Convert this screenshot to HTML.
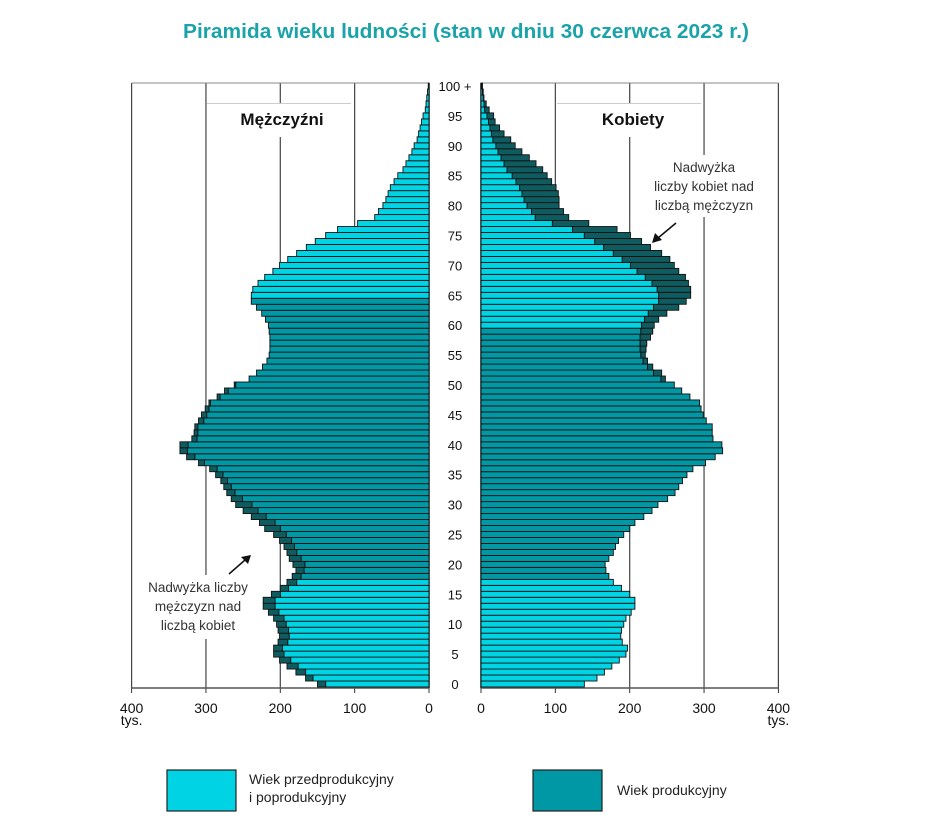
<!DOCTYPE html>
<html><head><meta charset="utf-8">
<style>
html,body{margin:0;padding:0;background:#fff;}
body{width:948px;height:822px;overflow:hidden;font-family:"Liberation Sans",sans-serif;}
</style></head>
<body>
<svg id="s" width="948" height="822" xmlns="http://www.w3.org/2000/svg" font-family="Liberation Sans, DejaVu Sans, sans-serif">
<text x="183" y="38" textLength="566" lengthAdjust="spacingAndGlyphs" font-size="20" font-weight="bold" fill="#1aa3a8">Piramida wieku ludności (stan w dniu 30 czerwca 2023 r.)</text>
<g id="grid"></g>
<g id="bars"></g>
<g id="over"></g>
</svg>
<script>
var M={100:1,99:2,98:3,97:4,96:5,95:8,94:10,93:12,92:14,91:16,90:20,89:23,88:27,87:31,86:35,85:42,84:47,83:52,82:55,81:58,80:62,79:68,78:73,77:96,76:123,75:139,74:153,73:165,72:178,71:190,70:201,69:210,68:221,67:230,66:237,65:239,64:239,63:232,62:225,61:220,60:216,59:215,58:214,57:214,56:214,55:215,54:218,53:224,52:232,51:242,50:262,49:275,48:285,47:296,46:301,45:306,44:310,43:315,42:316,41:319,40:335,39:335,38:326,37:310,36:295,35:287,34:280,33:276,32:272,31:266,30:260,29:250,28:239,27:228,26:221,25:209,24:201,23:195,22:191,21:188,20:183,19:179,18:184,17:191,16:200,15:212,14:223,13:223,12:216,11:209,10:205,9:203,8:201,7:203,6:209,5:209,4:201,3:191,2:179,1:166,0:150};
var F={100:2,99:3,98:4,97:7,96:11,95:17,94:19,93:25,92:31,91:40,90:46,89:55,88:65,87:74,86:83,85:89,84:95,83:101,82:104,81:105,80:105,79:111,78:118,77:145,76:183,75:201,74:216,73:228,72:243,71:254,70:260,69:266,68:275,67:279,66:282,65:282,64:276,63:266,62:250,61:239,60:233,59:231,58:228,57:223,56:222,55:221,54:224,53:231,52:243,51:248,50:260,49:270,48:281,47:294,46:296,45:299,44:303,43:311,42:311,41:312,40:324,39:325,38:315,37:302,36:285,35:277,34:271,33:266,32:261,31:251,30:238,29:230,28:219,27:207,26:200,25:192,24:185,23:181,22:178,21:172,20:167,19:168,18:172,17:178,16:189,15:200,14:207,13:207,12:202,11:195,10:192,9:189,8:188,7:190,6:197,5:195,4:186,3:176,2:166,1:156,0:139};
var NS="http://www.w3.org/2000/svg";
function el(p,t,a,txt){var e=document.createElementNS(NS,t);for(var k in a)e.setAttribute(k,a[k]);if(txt!=null)e.textContent=txt;p.appendChild(e);return e;}
var g=document.getElementById('grid'),b=document.getElementById('bars'),o=document.getElementById('over');
var L0=429,R0=481,S=0.7435,TOP=83,BOT=688;
for(var i=0;i<=4;i++){
 var xl=L0-i*100*S, xr=R0+i*100*S;
 el(g,'line',{x1:xl,y1:TOP,x2:xl,y2:BOT,stroke:i==0?'#111':'#444','stroke-width':i==0?1.5:1.2});
 el(g,'line',{x1:xr,y1:TOP,x2:xr,y2:BOT,stroke:i==0?'#111':'#444','stroke-width':i==0?1.5:1.2});
 el(g,'line',{x1:xl,y1:BOT,x2:xl,y2:BOT+5,stroke:'#333'});
 el(g,'line',{x1:xr,y1:BOT,x2:xr,y2:BOT+5,stroke:'#333'});
 var lbl=String(i*100);
 el(g,'text',{x:xl,y:BOT+25,'text-anchor':'middle','font-size':14,fill:'#111'},lbl);
 el(g,'text',{x:xr,y:BOT+25,'text-anchor':'middle','font-size':14,fill:'#111'},lbl);
}
el(g,'line',{x1:L0-400*S,y1:TOP,x2:L0,y2:TOP,stroke:'#888'});
el(g,'line',{x1:R0,y1:TOP,x2:R0+400*S,y2:TOP,stroke:'#888'});
el(g,'line',{x1:L0-400*S,y1:BOT,x2:L0,y2:BOT,stroke:'#555','stroke-width':1.5});
el(g,'line',{x1:R0,y1:BOT,x2:R0+400*S,y2:BOT,stroke:'#555','stroke-width':1.5});
el(g,'text',{x:L0-400*S,y:BOT+37,'text-anchor':'middle','font-size':14,fill:'#111'},'tys.');
el(g,'text',{x:R0+400*S,y:BOT+37,'text-anchor':'middle','font-size':14,fill:'#111'},'tys.');
el(g,'rect',{x:207,y:103,width:144,height:34,fill:'#fff'});
el(g,'line',{x1:207,y1:103.5,x2:351,y2:103.5,stroke:'#ccc'});
el(g,'text',{x:282,y:125,'text-anchor':'middle','font-size':17,'font-weight':'bold',fill:'#111'},'Mężczyźni');
el(g,'rect',{x:557,y:103,width:144,height:34,fill:'#fff'});
el(g,'line',{x1:557,y1:103.5,x2:701,y2:103.5,stroke:'#ccc'});
el(g,'text',{x:633,y:125,'text-anchor':'middle','font-size':17,'font-weight':'bold',fill:'#111'},'Kobiety');
var LIGHT='#00d4e4',TEAL='#0098a4',DARK='#0f5c60',H=5.98;
function R(x,y,w,h,c){el(b,'rect',{x:x,y:y,width:Math.max(w,0.5),height:h,fill:c,stroke:'#111','stroke-width':0.9});}
for(var a=0;a<=100;a++){
 var y=684-H*a-H/2, m=M[a], f=F[a], c=Math.min(m,f);
 var mcol=(a<18||a>=65)?LIGHT:TEAL, fcol=(a<18||a>=60)?LIGHT:TEAL;
 R(L0-c*S,y,c*S,H,mcol);
 if(m>f)R(L0-m*S,y,(m-f)*S,H,DARK);
 R(R0,y,c*S,H,fcol);
 if(f>m)R(R0+c*S,y,(f-m)*S,H,DARK);
 if(a%5==0){
  el(o,'text',{x:455,y:684-H*a+5,'text-anchor':'middle','font-size':13,fill:'#111'},a==100?'100 +':String(a));
 }
}
el(o,'rect',{x:633,y:155,width:142,height:62,fill:'#fff'});
['Nadwyżka','liczby kobiet nad','liczbą mężczyzn'].forEach(function(t,i){el(o,'text',{x:704,y:172+i*19,'text-anchor':'middle','font-size':13.5,fill:'#333'},t);});
el(o,'line',{x1:676,y1:223,x2:658,y2:238,stroke:'#111','stroke-width':1.5});
el(o,'polygon',{points:'652,243 655,233 662,240',fill:'#111'});
el(o,'rect',{x:137,y:575,width:122,height:64,fill:'#fff'});
['Nadwyżka liczby','mężczyzn nad','liczbą kobiet'].forEach(function(t,i){el(o,'text',{x:198,y:592+i*19,'text-anchor':'middle','font-size':13.5,fill:'#333'},t);});
el(o,'line',{x1:229,y1:574,x2:245,y2:560,stroke:'#111','stroke-width':1.5});
el(o,'polygon',{points:'251,555 241,557 248,564',fill:'#111'});
el(o,'rect',{x:167,y:770,width:69,height:41,fill:LIGHT,stroke:'#222','stroke-width':1.2});
el(o,'text',{x:249,y:784,'font-size':14,fill:'#222'},'Wiek przedprodukcyjny');
el(o,'text',{x:249,y:802,'font-size':14,fill:'#222'},'i poprodukcyjny');
el(o,'rect',{x:533,y:770,width:69,height:41,fill:TEAL,stroke:'#222','stroke-width':1.2});
el(o,'text',{x:617,y:795,'font-size':14,fill:'#222'},'Wiek produkcyjny');
</script>
</body></html>
